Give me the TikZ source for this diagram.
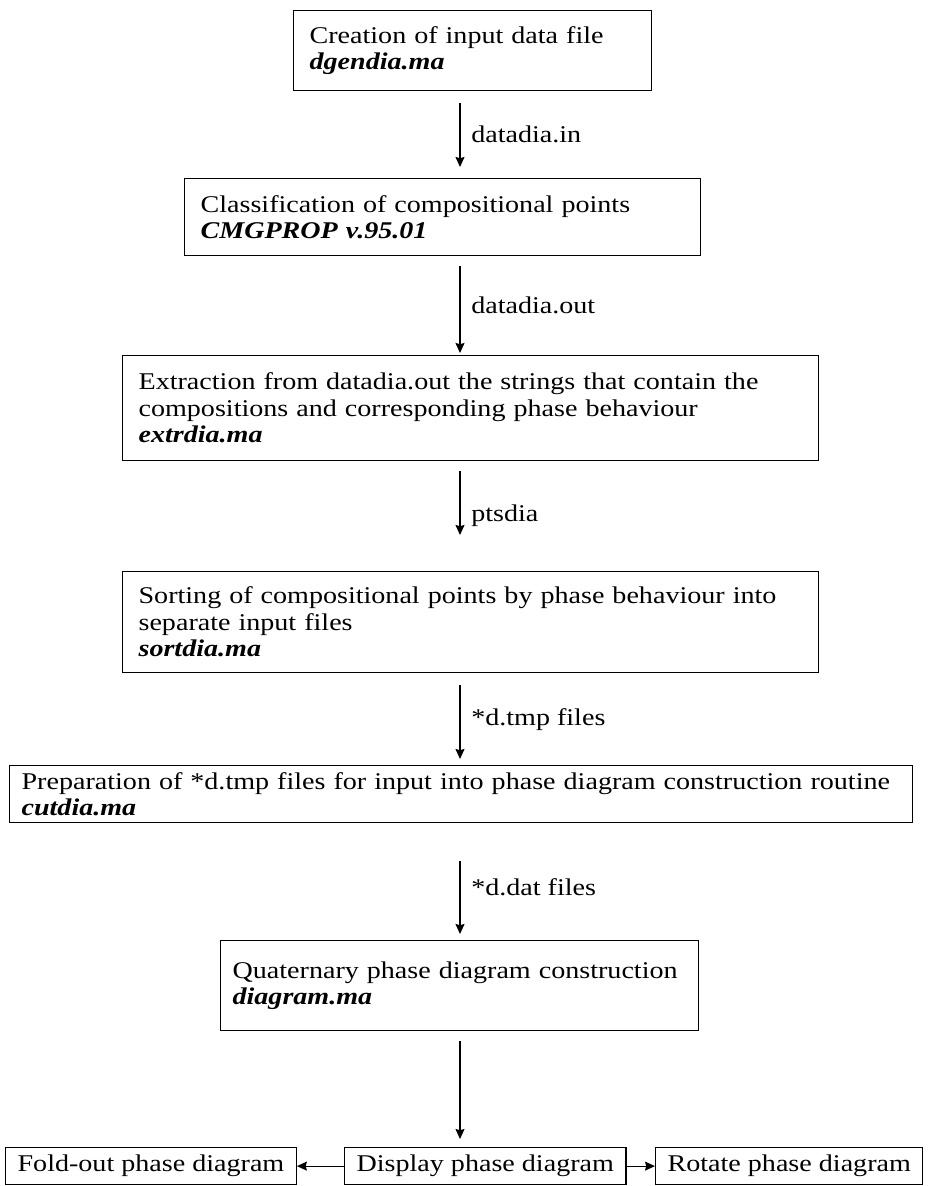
\documentclass[tikz,border=0pt]{standalone}
\usepackage{fontspec}
\setmainfont[FakeStretch=1.17]{Liberation Serif}
\usetikzlibrary{arrows.meta}

\newcommand{\progname}[1]{\textbf{\textit{#1}}}

\begin{document}
\begin{tikzpicture}
  [x=0.5pt,y=-0.5pt,
   procN/.style={draw,line width=0.6pt,anchor=north west,align=left,
     inner xsep=8pt,inner ysep=2pt,font=\fontsize{12}{13.25}\selectfont},
   flowA/.style={draw,line width=0.6pt,-{Stealth[length=5pt,width=4.5pt,inset=0.6pt]}},
   lblN/.style={right=2pt,font=\fontsize{12}{13.25}\selectfont}]

  \useasboundingbox (0,0) rectangle (933,1186);
  \coordinate (col) at (460,0);

  \node[procN,text width=163pt,minimum height=40pt] (creat) at (293,10)
    {Creation of input data file\\ \progname{dgendia.ma}};
  \node[procN,text width=242pt,minimum height=38.5pt] (classif) at (184,178)
    {Classification of compositional points\\ \progname{CMGPROP v.95.01}};
  \node[procN,text width=332pt,minimum height=52.5pt] (extr) at (122,355)
    {Extraction from datadia.out the strings that contain the\\
     compositions and corresponding phase behaviour\\ \progname{extrdia.ma}};
  \node[procN,text width=332pt,minimum height=50.5pt] (sorting) at (122,571)
    {Sorting of compositional points by phase behaviour into\\
     separate input files\\ \progname{sortdia.ma}};
  \node[procN,inner xsep=6pt,text width=439.5pt,minimum height=28.5pt] (prep) at (9,765)
    {Preparation of *d.tmp files for input into phase diagram construction routine\\
     \progname{cutdia.ma}};
  \node[procN,inner xsep=6pt,text width=227pt,minimum height=45pt] (diag) at (220,940)
    {Quaternary phase diagram construction\\ \progname{diagram.ma}};

  \node[procN,inner xsep=6pt,minimum height=18.5pt] (fold) at (5,1147)   {Fold-out phase diagram};
  \node[procN,inner xsep=6pt,minimum height=18.5pt] (disp) at (344,1147) {Display phase diagram};
  \node[procN,inner xsep=6pt,minimum height=18.5pt] (rot)  at (655,1147) {Rotate phase diagram};

  \draw[flowA,shorten <=6pt,shorten >=5.5pt] (creat.south -| col)
    -- node[lblN] {datadia.in} (classif.north -| col);
  \draw[flowA,shorten <=5pt,shorten >=1pt] (classif.south -| col)
    -- node[lblN] {datadia.out} (extr.north -| col);
  \draw[flowA,shorten <=5pt,shorten >=18pt] (extr.south -| col)
    -- node[lblN] {ptsdia} (sorting.north -| col);
  \draw[flowA,shorten <=6pt,shorten >=3pt] (sorting.south -| col)
    -- node[lblN] {*d.tmp files} (prep.north -| col);
  \draw[flowA,shorten <=19pt,shorten >=3pt] (prep.south -| col)
    -- node[lblN,pos=0.55] {*d.dat files} (diag.north -| col);
  \draw[flowA,shorten <=5pt,shorten >=4pt] (diag.south -| col)
    -- (disp.north -| col);

  \draw[flowA] (disp.west) -- (fold.east);
  \draw[flowA] (disp.east) -- (rot.west);
\end{tikzpicture}
\end{document}
